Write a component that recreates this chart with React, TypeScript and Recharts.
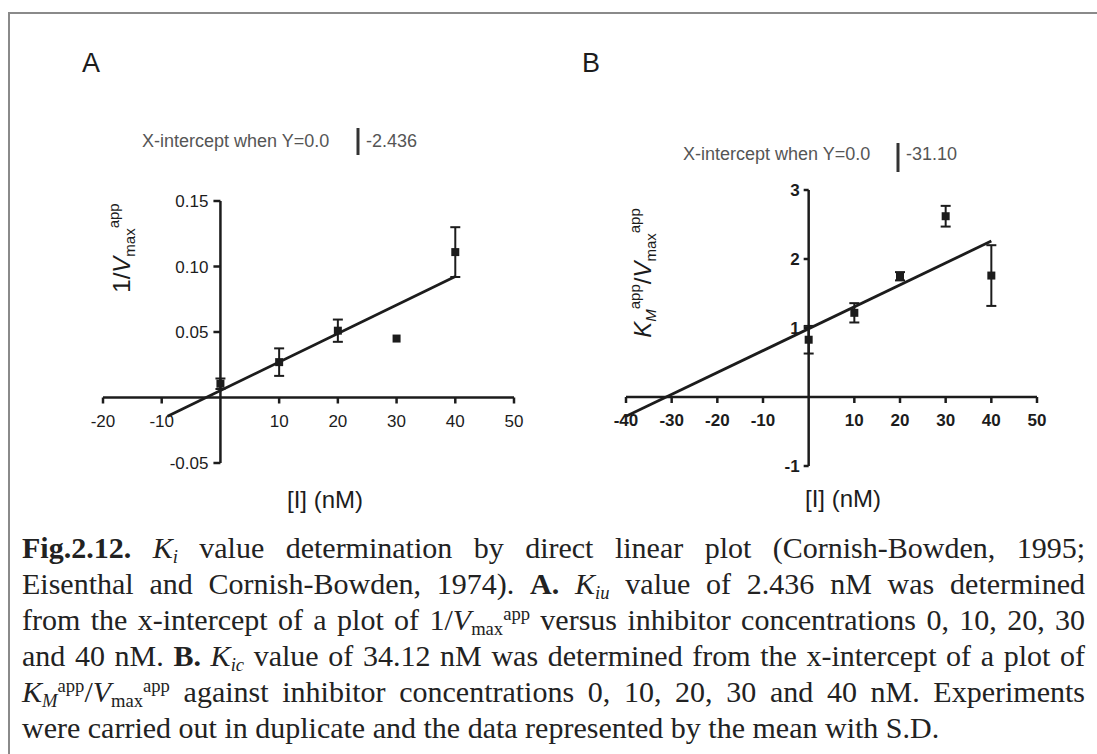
import React from "react";
import {
  ScatterChart,
  Scatter,
  XAxis,
  YAxis,
  ZAxis,
  ErrorBar,
  ReferenceLine,
  ReferenceDot,
} from "recharts";

// panel A: 1/Vmax(app) vs [I]
const concA = [0, 10, 20, 30, 40];
const meanA = [0.0105, 0.027, 0.051, 0.045, 0.111];
const sdA = [0.004, 0.0105, 0.0085, 0, 0.019];
const fitXA = [-9, 40];
const fitYA = [-0.0143, 0.0923];
const xTicksA = [-20, -10, 10, 20, 30, 40, 50];
const yTicksA = [0.15, 0.1, 0.05, -0.05];
const yTickLabelsA = ["0.15", "0.10", "0.05", "-0.05"];

// panel B: KM(app)/Vmax(app) vs [I]
const concB = [0, 10, 20, 30, 40];
const meanB = [0.83, 1.22, 1.75, 2.62, 1.76];
const sdB = [0.2, 0.14, 0.06, 0.15, 0.44];
const fitXB = [-40, 40];
const fitYB = [-0.28, 2.26];
const xTicksB = [-40, -30, -20, -10, 10, 20, 30, 40, 50];
const yTicksB = [3, 2, 1, -1];
const yTickLabelsB = ["3", "2", "1", "-1"];

const INK = "#1c1c1c";
const SANS = "'Liberation Sans', Arial, sans-serif";

const ptsA = concA.map((x, i) => ({ x, y: meanA[i], sd: sdA[i] }));
const lineA = fitXA.map((x, i) => ({ x, y: fitYA[i] }));
const ptsB = concB.map((x, i) => ({ x, y: meanB[i], sd: sdB[i] }));
const lineB = fitXB.map((x, i) => ({ x, y: fitYB[i] }));

const XTick = ({ cx, cy, text, bold }: any) => (
  <g>
    <line x1={cx} y1={cy} x2={cx} y2={cy + 6} stroke={INK} strokeWidth={2.5} />
    <text
      x={cx}
      y={cy + 29}
      textAnchor="middle"
      fontSize={17}
      fontFamily={SANS}
      fontWeight={bold ? 700 : 400}
      fill={INK}
    >
      {text}
    </text>
  </g>
);

const YTick = ({ cx, cy, text, bold, len, gap }: any) => (
  <g>
    <line x1={cx - len} y1={cy} x2={cx} y2={cy} stroke={INK} strokeWidth={2.5} />
    <text
      x={cx - gap}
      y={cy}
      dy="0.36em"
      textAnchor="end"
      fontSize={17}
      fontFamily={SANS}
      fontWeight={bold ? 700 : 400}
      fill={INK}
    >
      {text}
    </text>
  </g>
);

const Panel = ({ pts, line, xDomain, yDomain, xTicks, yTicks, yLabels, bold, size, width, height, margin }: any) => (
  <ScatterChart width={width} height={height} margin={margin}>
    <XAxis type="number" dataKey="x" domain={xDomain} allowDataOverflow hide />
    <YAxis type="number" dataKey="y" domain={yDomain} allowDataOverflow hide />
    <ZAxis range={[size, size]} />
    <ReferenceLine y={0} stroke={INK} strokeWidth={2.5} />
    <ReferenceLine x={0} stroke={INK} strokeWidth={2.5} />
    {xTicks.map((t: number) => (
      <ReferenceDot
        key={"x" + t}
        x={t}
        y={0}
        r={0}
        shape={(p: any) => <XTick cx={p.cx} cy={p.cy} text={String(t)} bold={bold} />}
      />
    ))}
    {yTicks.map((t: number, i: number) => (
      <ReferenceDot
        key={"y" + t}
        x={0}
        y={t}
        r={0}
        shape={(p: any) => (
          <YTick cx={p.cx} cy={p.cy} text={yLabels[i]} bold={bold} len={bold ? 5 : 7} gap={bold ? 9 : 12} />
        )}
      />
    ))}
    <Scatter
      data={line}
      line={{ stroke: INK, strokeWidth: 2.8 }}
      shape={() => <g />}
      isAnimationActive={false}
    />
    <Scatter data={pts} fill={INK} shape="square" isAnimationActive={false}>
      <ErrorBar dataKey="sd" direction="y" width={5} stroke={INK} strokeWidth={2} />
    </Scatter>
  </ScatterChart>
);

const capLine: React.CSSProperties = {
  height: 36,
  lineHeight: "36px",
  whiteSpace: "nowrap",
  textAlign: "justify",
  textAlignLast: "justify",
};
const sub: React.CSSProperties = { fontSize: "0.62em", verticalAlign: "-0.25em", lineHeight: 0 };
const sup: React.CSSProperties = { fontSize: "0.62em", verticalAlign: "0.55em", lineHeight: 0 };

export default function App() {
  return (
    <div style={{ position: "absolute", left: 0, top: 0, width: 1097, height: 754, background: "#fff", overflow: "hidden" }}>
      {/* scan frame */}
      <div style={{ position: "absolute", left: 8, top: 12, right: 0, height: 2, background: "#8a8a8a" }} />
      <div style={{ position: "absolute", left: 8, top: 12, bottom: 0, width: 2, background: "#8a8a8a" }} />

      <svg width={1097} height={754} style={{ position: "absolute", left: 0, top: 0 }}>
        <g fontFamily={SANS} fill={INK}>
          <text x={82} y={72} fontSize={27}>A</text>
          <text x={582} y={72} fontSize={27}>B</text>

          <text x={142} y={147} fontSize={18} fill="#555">X-intercept when Y=0.0</text>
          <line x1={358} y1={128} x2={358} y2={155} stroke="#333" strokeWidth={3} />
          <text x={366} y={147} fontSize={18} fill="#555">-2.436</text>

          <text x={683} y={160} fontSize={18} fill="#555">X-intercept when Y=0.0</text>
          <line x1={898} y1={143} x2={898} y2={172} stroke="#333" strokeWidth={3} />
          <text x={906} y={160} fontSize={18} fill="#555">-31.10</text>

          <text x={130} y={248} fontSize={24} textAnchor="middle" transform="rotate(-90 130 248)">
            1/<tspan fontStyle="italic">V</tspan>
            <tspan fontSize={15} dy={5}>max</tspan>
            <tspan fontSize={15} dy={-16}>app</tspan>
          </text>
          <text x={651} y={273} fontSize={24} textAnchor="middle" transform="rotate(-90 651 273)">
            <tspan fontStyle="italic">K</tspan>
            <tspan fontSize={15} dy={5} fontStyle="italic">M</tspan>
            <tspan fontSize={15} dy={-16}>app</tspan>
            <tspan dy={11}>/</tspan>
            <tspan fontStyle="italic">V</tspan>
            <tspan fontSize={15} dy={5}>max</tspan>
            <tspan fontSize={15} dy={-16}>app</tspan>
          </text>

          <text x={325} y={508} fontSize={24} textAnchor="middle">[I] (nM)</text>
          <text x={843} y={507} fontSize={24} textAnchor="middle">[I] (nM)</text>
        </g>
      </svg>

      <div style={{ position: "absolute", left: 40, top: 170 }}>
        <Panel
          pts={ptsA}
          line={lineA}
          xDomain={[-20, 50]}
          yDomain={[-0.05, 0.15]}
          xTicks={xTicksA}
          yTicks={yTicksA}
          yLabels={yTickLabelsA}
          bold={false}
          size={64}
          width={500}
          height={360}
          margin={{ top: 31, right: 26, bottom: 67, left: 63 }}
        />
      </div>

      <div style={{ position: "absolute", left: 560, top: 160 }}>
        <Panel
          pts={ptsB}
          line={lineB}
          xDomain={[-40, 50]}
          yDomain={[-1, 3]}
          xTicks={xTicksB}
          yTicks={yTicksB}
          yLabels={yTickLabelsB}
          bold={true}
          size={90}
          width={510}
          height={370}
          margin={{ top: 30, right: 33, bottom: 64, left: 66 }}
        />
      </div>

      <div
        style={{
          position: "absolute",
          left: 22,
          top: 530,
          width: 1063,
          fontFamily: "'Liberation Serif', 'Times New Roman', serif",
          fontSize: 30,
          color: "#222",
        }}
      >
        <div style={capLine}>
          <b>Fig.2.12.</b> <i>K</i><i style={sub}>i</i> value determination by direct linear plot (Cornish-Bowden, 1995;
        </div>
        <div style={capLine}>
          Eisenthal and Cornish-Bowden, 1974). <b>A.</b> <i>K</i><i style={sub}>iu</i> value of 2.436 nM was determined
        </div>
        <div style={capLine}>
          from the x-intercept of a plot of 1/<i>V</i><span style={sub}>max</span><span style={sup}>app</span> versus inhibitor concentrations 0, 10, 20, 30
        </div>
        <div style={capLine}>
          and 40 nM. <b>B.</b> <i>K</i><i style={sub}>ic</i> value of 34.12 nM was determined from the x-intercept of a plot of
        </div>
        <div style={capLine}>
          <i>K</i><i style={sub}>M</i><span style={sup}>app</span>/<i>V</i><span style={sub}>max</span><span style={sup}>app</span> against inhibitor concentrations 0, 10, 20, 30 and 40 nM. Experiments
        </div>
        <div style={{ ...capLine, textAlign: "left", textAlignLast: "left" }}>
          were carried out in duplicate and the data represented by the mean with S.D.
        </div>
      </div>
    </div>
  );
}
